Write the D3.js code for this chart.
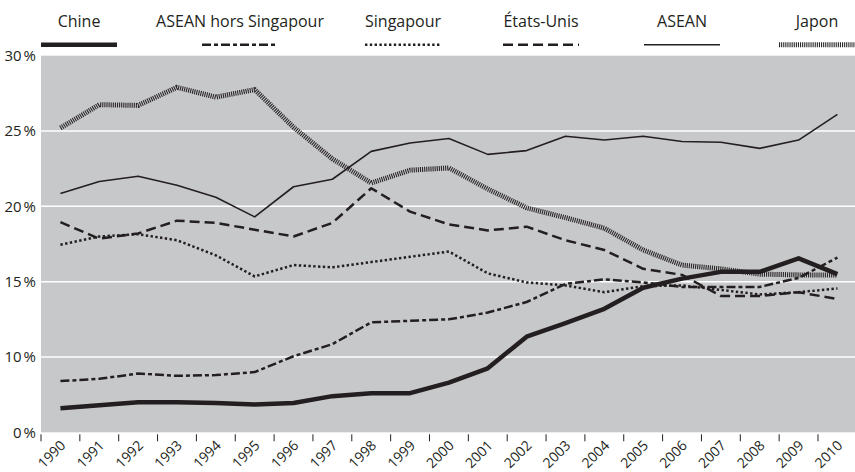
<!DOCTYPE html>
<html>
<head>
<meta charset="utf-8">
<script src="https://cdn.jsdelivr.net/npm/d3@7"></script>
<style>
  body { margin: 0; background: #fff; }
  text { font-family: "Open Sans", sans-serif; fill: #231f20; }
</style>
</head>
<body>
<div id="chart"></div>
<script>
// data
const years = d3.range(1990, 2011).map(String)
const seriesNames = ["Chine", "ASEAN hors Singapour", "Singapour", "États-Unis", "ASEAN", "Japon"]

const chine = [6.6, 6.8, 7.0, 7.0, 6.95, 6.85, 6.95, 7.4, 7.6, 7.6, 8.3, 9.25, 11.35, 12.25, 13.2, 14.6, 15.2, 15.65, 15.65, 16.55, 15.5]
const aseanHorsSingapour = [8.4, 8.55, 8.9, 8.75, 8.8, 9.0, 10.05, 10.85, 12.3, 12.4, 12.5, 12.95, 13.65, 14.85, 15.15, 14.95, 14.65, 14.65, 14.65, 15.25, 16.6]
const singapour = [17.45, 18.0, 18.15, 17.75, 16.75, 15.35, 16.1, 15.95, 16.3, 16.65, 17.0, 15.55, 14.95, 14.75, 14.3, 14.7, 14.75, 14.45, 14.15, 14.3, 14.55]
const etatsUnis = [18.95, 17.85, 18.2, 19.05, 18.9, 18.45, 18.0, 18.9, 21.2, 19.65, 18.8, 18.4, 18.65, 17.75, 17.1, 15.85, 15.45, 14.05, 14.05, 14.3, 13.85]
const asean = [20.85, 21.65, 22.0, 21.4, 20.6, 19.3, 21.3, 21.8, 23.65, 24.2, 24.5, 23.45, 23.7, 24.65, 24.4, 24.65, 24.3, 24.25, 23.85, 24.4, 26.1]
const japon = [25.2, 26.75, 26.7, 27.9, 27.25, 27.75, 25.25, 23.15, 21.55, 22.4, 22.55, 21.15, 19.9, 19.25, 18.55, 17.1, 16.1, 15.85, 15.5, 15.45, 15.45]

// the source axis is labelled 0, 10, 15 ... with equal gaps
const yTicks = [5, 10, 15, 20, 25, 30]
const yTickLabels = ["0\u202F%", "10\u202F%", "15\u202F%", "20\u202F%", "25\u202F%", "30\u202F%"]

const W = 855, H = 472
const plot = { left: 41, top: 55.7, bottom: 432.3 }
const band = 38.85

// line styles, same order as seriesNames
const styles = [
    { width: 4.5, dash: null, color: "#231f20" },
    { width: 2.5, dash: "9,3,4,3", color: "#231f20" },
    { width: 2.5, dash: "2.4,2.4", color: "#231f20" },
    { width: 2.5, dash: "10,5", color: "#231f20" },
    { width: 1.6, dash: null, color: "#231f20" },
    { width: 5, dash: "1.1,1", color: "#2a2627" }
]
const legendX = [79, 240, 403, 541, 682, 817]

const values = [chine, aseanHorsSingapour, singapour, etatsUnis, asean, japon]
const series = seriesNames.map((name, i) => ({ name, values: values[i], style: styles[i] }))

const x = d3.scaleBand()
    .domain(years)
    .range([plot.left, plot.left + band * years.length])
    .paddingInner(0).paddingOuter(0)

const y = d3.scaleLinear()
    .domain([5, 30])
    .range([plot.bottom, plot.top])

const svg = d3.select("#chart").append("svg")
    .attr("width", W)
    .attr("height", H)

// plot background + grid
svg.append("rect")
    .attr("x", plot.left)
    .attr("y", plot.top)
    .attr("width", W - plot.left)
    .attr("height", plot.bottom - plot.top)
    .attr("fill", "#c7c8ca")

svg.append("g").selectAll("line")
    .data(yTicks.slice(1, -1))
    .join("line")
    .attr("x1", plot.left).attr("x2", W)
    .attr("y1", d => y(d)).attr("y2", d => y(d))
    .attr("stroke", "#fff")
    .attr("stroke-width", 1.5)

// y axis labels
const yAxis = d3.axisLeft(y)
    .tickValues(yTicks)
    .tickFormat((d, i) => yTickLabels[i])
    .tickSize(0)
    .tickPadding(5)

svg.append("g")
    .attr("transform", "translate(" + plot.left + ",0)")
    .call(yAxis)
    .call(g => g.select(".domain").remove())
    .selectAll("text")
    .attr("font-family", "'Liberation Sans Narrow', 'DejaVu Sans Condensed', 'Open Sans', sans-serif")
    .attr("font-size", 15)
    .attr("letter-spacing", -0.6)
    .attr("fill", "#231f20")

// x axis: ticks between years, rotated labels
const xAxis = d3.axisBottom(x)
    .tickSizeOuter(0)

svg.append("g")
    .attr("transform", "translate(0," + plot.bottom + ")")
    .call(xAxis)
    .call(g => g.select(".domain").remove())
    .call(g => g.selectAll(".tick line")
        .attr("x1", -band / 2).attr("x2", -band / 2)
        .attr("y1", 2).attr("y2", 9)
        .attr("stroke", "#231f20"))
    .selectAll("text")
    .attr("font-family", "'Open Sans', sans-serif")
    .attr("font-size", 14)
    .attr("fill", "#2b2829")
    .attr("text-anchor", "end")
    .attr("dy", 0)
    .attr("y", 0)
    .attr("transform", "translate(6,14) rotate(-45)")

// lines
const line = d3.line()
    .x((d, i) => x(years[i]) + x.bandwidth() / 2)
    .y(d => y(d))

const drawOrder = [5, 4, 3, 2, 1, 0]
svg.append("g").selectAll("path")
    .data(drawOrder.map(i => series[i]))
    .join("path")
    .attr("d", d => line(d.values))
    .attr("fill", "none")
    .attr("stroke", d => d.style.color)
    .attr("stroke-width", d => d.style.width)
    .attr("stroke-dasharray", d => d.style.dash)
    .attr("stroke-linejoin", "round")

// legend
const legend = svg.append("g").selectAll("g")
    .data(series)
    .join("g")
    .attr("transform", (d, i) => "translate(" + legendX[i] + ",0)")

legend.append("text")
    .attr("x", 0)
    .attr("y", 27)
    .attr("text-anchor", "middle")
    .attr("font-size", 16)
    .text(d => d.name)

legend.append("line")
    .attr("x1", -38).attr("x2", 38)
    .attr("y1", 44.7).attr("y2", 44.7)
    .attr("stroke", d => d.style.color)
    .attr("stroke-width", d => d.style.width)
    .attr("stroke-dasharray", d => d.style.dash)
</script>
</body>
</html>
